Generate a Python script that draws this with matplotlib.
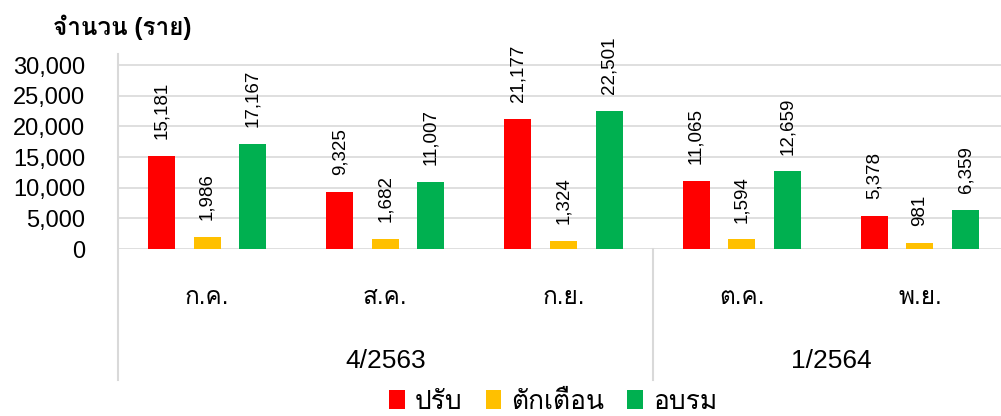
import numpy as np
import matplotlib
matplotlib.use("Agg")
import matplotlib.pyplot as plt
from matplotlib import font_manager
from matplotlib.patches import Patch
from matplotlib.lines import Line2D

# ข้อมูล
months = ["ก.ค.", "ส.ค.", "ก.ย.", "ต.ค.", "พ.ย."]
quarters = ["4/2563", "1/2564"]
quarter_span = [(0, 2), (3, 4)]
series_names = ["ปรับ", "ตักเตือน", "อบรม"]
fine = [15181, 9325, 21177, 11065, 5378]
warn = [1986, 1682, 1324, 1594, 981]
train = [17167, 11007, 22501, 12659, 6359]
yticks = [0, 5000, 10000, 15000, 20000, 25000, 30000]

colors = ["#FF0000", "#FFC000", "#00B050"]


def find_thai_font():
    # หาฟอนต์ที่มีตัวอักษรไทย
    from fontTools.ttLib import TTFont
    for f in font_manager.fontManager.ttflist:
        try:
            cmap = TTFont(f.fname, fontNumber=0, lazy=True).getBestCmap()
        except Exception:
            continue
        if cmap and 0x0E01 in cmap and 0x0E33 in cmap:
            return f.name
    return None


thai = find_thai_font()
fam = ["Liberation Sans"] + ([thai] if thai else []) + ["DejaVu Sans"]
plt.rcParams["font.family"] = fam

fig = plt.figure(figsize=(10.01, 4.16), dpi=100)
H = 416.0
ax = fig.add_axes([118 / 1001, (H - 249) / H, 1 - 118 / 1001, 195 / H])

x = np.arange(len(months))
w = 0.152
off = 0.256
for i, vals in enumerate([fine, warn, train]):
    xs = x + (i - 1) * off
    ax.bar(xs, vals, width=w, color=colors[i], zorder=3)
    for xx, v in zip(xs, vals):
        ax.annotate(f"{v:,}", (xx, v), xytext=(0, 12), textcoords="offset points",
                    rotation=90, ha="center", va="bottom", fontsize=13.5)

ax.set_xlim(-0.5, 4.455)
ax.set_ylim(0, 31800)
ax.set_yticks(yticks)
ax.set_yticklabels([f"{t:,}" for t in yticks], fontsize=17)
ax.tick_params(axis="y", length=0, pad=23.5)
ax.set_xticks([])
ax.grid(axis="y", color="#D9D9D9", linewidth=1.2, zorder=0)
for s in ["top", "right", "bottom", "left"]:
    ax.spines[s].set_visible(False)

# เส้นแกน
tr = ax.get_xaxis_transform()
ax.add_line(Line2D([-0.5, -0.5], [1.0, -0.672], transform=tr, color="#D9D9D9",
                   linewidth=1.5, clip_on=False))
ax.add_line(Line2D([2.5, 2.5], [0, -0.672], transform=tr, color="#D9D9D9",
                   linewidth=1.5, clip_on=False))

for xx, m in zip(x, months):
    ax.text(xx, -0.25, m, transform=tr, ha="center", va="center", fontsize=17.5)
for q, (a, b) in zip(quarters, quarter_span):
    ax.text((a + b) / 2, -0.574, q, transform=tr, ha="center", va="center", fontsize=19)

fig.text(53 / 1001, (H - 27) / H, "จำนวน (ราย)", ha="left", va="center",
         fontsize=17.5, fontweight="bold")

handles = [Patch(facecolor=c) for c in colors]
fig.legend(handles, series_names, loc="center", bbox_to_anchor=(553 / 1001, (H - 402) / H),
           ncol=3, frameon=False, fontsize=19, handlelength=0.6, handleheight=0.75,
           handletextpad=0.35, columnspacing=0.9, borderpad=0)

fig.savefig("out.png", dpi=100)
